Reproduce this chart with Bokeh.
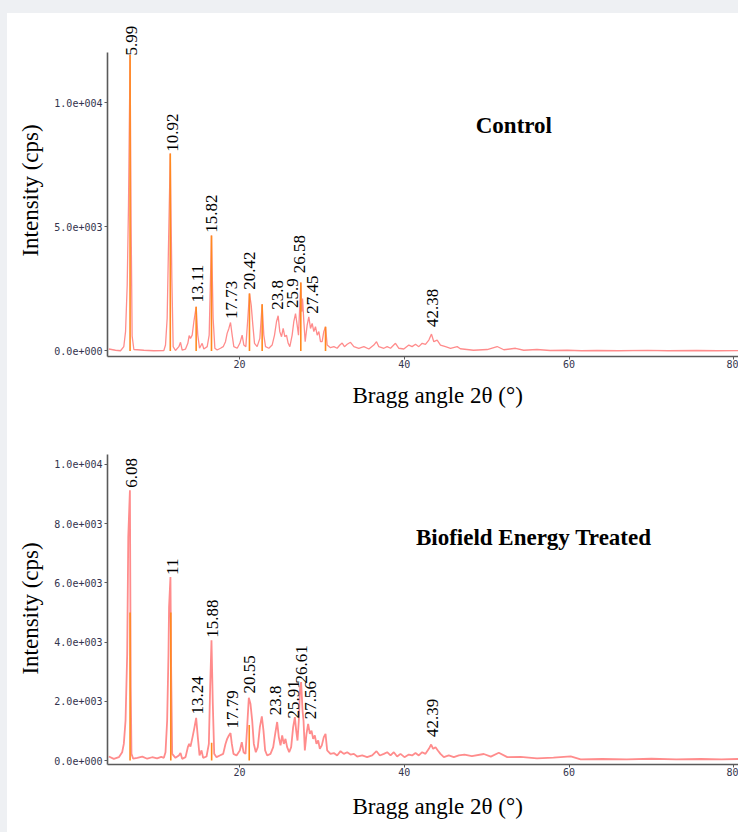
import numpy as np
from bokeh.plotting import figure
from bokeh.models import Range1d, FixedTicker, CustomJSTickFormatter, Title, Spacer
from bokeh.layouts import column, row
from bokeh.embed import file_html
from bokeh.resources import INLINE
from bokeh.core.properties import value

# ---------------- data (2theta in degrees, intensity in cps) ----------------
ctrl_x = [4.14, 4.95, 5.56, 5.96, 6.17, 6.37, 6.53, 6.72, 6.85, 6.97, 7.18, 8.39, 9.60, 10.82, 11.02,
          11.22, 11.38, 11.60, 11.79, 11.95, 12.23, 12.64, 12.84, 13.04, 13.45, 13.73, 13.89, 14.05,
          14.26, 14.46, 14.74, 14.94, 15.15, 15.47, 15.67, 16.08, 16.32, 16.48, 16.60, 16.80, 17.01,
          17.29, 17.69, 18.02, 18.30, 18.50, 18.71, 18.91, 19.11, 19.31, 19.72, 20.04, 20.32, 20.53,
          20.77, 21.01, 21.21, 21.42, 21.62, 21.82, 22.14, 22.47, 22.75, 22.95, 23.16, 23.56, 23.96,
          24.25, 24.49, 24.69, 24.89, 25.10, 25.30, 25.50, 25.70, 25.91, 26.11, 26.39, 26.59, 26.80,
          27.00, 27.16, 27.32, 27.44, 27.56, 27.65, 27.81, 27.97, 28.21, 28.41, 28.62, 28.82, 29.02,
          29.22, 29.43, 29.63, 29.83, 30.03, 30.23, 30.44, 30.64, 31.04, 31.45, 31.85, 32.18, 32.46,
          32.74, 33.07, 33.47, 33.88, 34.48, 35.09, 35.70, 36.30, 36.63, 36.91, 37.52, 37.92, 38.33,
          38.93, 39.34, 39.94, 40.55, 40.95, 41.36, 41.76, 42.17, 42.57, 42.98, 43.30, 43.58, 43.99,
          44.39, 45.00, 45.61, 46.42, 46.8, 48.4, 50.06, 51.27, 52.08, 53.5, 54.5, 56.1, 57.7, 59.8,
          61.5, 63.4, 66.0, 69.5, 72.0, 75.5, 78.0, 80.5]
ctrl_y = [80, 30, 10, 180, 780, 2640, 5900, 11950, 5000, 600, 60, 30, 10, 20, 240,
          1310, 4200, 7960, 2920, 175, 20, 175, 350, 40, 80, 310, 620, 510,
          640, 1180, 1780, 640, 110, 310, 80, 175, 640, 2920, 4660, 1310, 110,
          40, 110, 175, 375, 710, 910, 1150, 640, 175, 110, 310, 640, 240,
          175, 1310, 2320, 1850, 1045, 310, 175, 510, 1880, 640, 175, 110, 240,
          640, 1180, 1420, 780, 575, 910, 575, 640, 310, 175, 640, 1180, 1510,
          1045, 640, 1850, 2760, 1580, 2120, 1180, 375, 1045, 1380, 910, 1110, 780,
          980, 640, 780, 375, 375, 780, 980, 240, 135, 175, 110, 240, 320,
          175, 270, 350, 175, 110, 175, 80, 240, 375, 175, 110, 175, 110,
          310, 110, 80, 240, 175, 270, 175, 310, 270, 440, 680, 375, 440,
          240, 175, 110, 175, 90, 30, 60, 180, 50, 110, 30, 60, 20, 30,
          10, 20, 10, 25, 10, 20, 10, 15]

trt_x = [4.14, 4.75, 5.36, 5.76, 5.96, 6.17, 6.37, 6.50, 6.70, 6.80, 6.89, 7.10, 7.6, 8.2, 8.8,
         9.4, 10.0, 10.5, 10.82, 11.02, 11.22, 11.38, 11.45, 11.62, 11.71, 11.83, 12.23, 12.64,
         12.84, 13.04, 13.45, 13.73, 13.89, 14.05, 14.30, 14.54, 14.74, 14.94, 15.15, 15.39, 15.59,
         16.00, 16.28, 16.44, 16.60, 16.76, 16.93, 17.21, 17.61, 18.02, 18.30, 18.50, 18.71, 18.91,
         19.07, 19.27, 19.64, 20.04, 20.28, 20.49, 20.73, 20.93, 21.13, 21.33, 21.54, 21.74, 21.98,
         22.22, 22.47, 22.71, 22.91, 23.11, 23.36, 23.76, 24.09, 24.33, 24.57, 24.77, 24.98, 25.18,
         25.38, 25.58, 25.78, 26.03, 26.27, 26.51, 26.72, 26.88, 27.04, 27.20, 27.36, 27.48, 27.65,
         27.77, 27.93, 28.13, 28.33, 28.54, 28.74, 28.94, 29.14, 29.34, 29.55, 29.75, 29.99, 30.23,
         30.44, 30.64, 31.04, 31.45, 31.85, 32.26, 32.66, 33.07, 33.47, 33.88, 34.28, 34.89, 35.49,
         36.10, 36.63, 37.03, 37.52, 37.92, 38.33, 38.73, 39.13, 39.54, 40.02, 40.55, 40.95, 41.36,
         41.76, 42.17, 42.57, 42.98, 43.26, 43.50, 43.79, 44.07, 44.39, 44.80, 45.40, 46.01, 46.62,
         47.3, 48.2, 49.65, 50.5, 51.47, 52.5, 54.1, 56.1, 58.1, 60.2, 61.4, 64.0, 67.0, 70.0,
         73.0, 76.0, 78.5, 80.5]
trt_y = [135, 56, 113, 280, 560, 1350, 3600, 7550, 9130, 2480, 225, 60, 90, 130, 60,
         110, 70, 120, 90, 280, 1350, 3600, 5180, 6200, 2930, 225, 90, 170,
         250, 56, 113, 450, 560, 470, 790, 1130, 1440, 790, 170, 340, 90,
         135, 560, 2480, 4060, 1920, 225, 113, 170, 225, 560, 730, 845, 925,
         560, 225, 170, 340, 620, 280, 225, 1130, 2120, 1920, 1350, 560, 280,
         450, 1130, 1490, 1010, 340, 170, 225, 450, 900, 1300, 790, 510, 845,
         560, 730, 450, 280, 450, 1130, 1465, 1010, 675, 1350, 2480, 2650, 1690,
         1350, 340, 900, 1240, 900, 1010, 730, 845, 560, 675, 395, 510, 790,
         900, 340, 225, 250, 170, 315, 225, 280, 200, 225, 135, 170, 113,
         170, 315, 170, 225, 280, 170, 280, 135, 225, 113, 200, 170, 250,
         170, 280, 225, 395, 540, 395, 450, 340, 225, 113, 170, 113, 170,
         200, 150, 220, 130, 260, 113, 120, 70, 100, 140, 40, 50, 40, 60,
         40, 50, 40, 50]

# orange cores of the strongest reflections
ctrl_core_x = [6.72, 11.60, 14.74, 16.60, 21.21, 22.75, 27.44, 30.44]
ctrl_core_y = [11950, 7960, 1780, 4660, 2320, 1880, 2760, 980]
trt_core_x = [6.72, 11.66, 16.62, 21.18]
trt_core_y = [5000, 5000, 600, 1200]

# peak labels
ctrl_lbl = ["5.99", "10.92", "13.11", "15.82", "17.73", "20.42", "23.8", "25.9", "26.58", "27.45", "42.38"]
ctrl_lbl_x = [6.86, 11.83, 14.86, 16.60, 19.03, 21.21, 24.57, 26.39, 27.32, 28.82, 43.38]
ctrl_lbl_y = [11830, 7950, 1876, 4690, 1206, 2385, 1580, 1650, 3055, 1420, 885]

trt_lbl = ["6.08", "11", "13.24", "15.88", "17.79", "20.55", "23.8", "25.91", "26.61", "27.56", "42.39"]
trt_lbl_x = [6.86, 11.83, 14.87, 16.76, 19.11, 21.21, 24.37, 26.51, 27.52, 28.62, 43.38]
trt_lbl_y = [9150, 6200, 1487, 4080, 1014, 2200, 1465, 1350, 2535, 1330, 730]

x_ticks = [20, 40, 60, 80]
ctrl_yticks = [0, 5000, 10000]
trt_yticks = [0, 2000, 4000, 6000, 8000, 10000]

SERIF = "Liberation Serif"
TICKFONT = "DejaVu Sans Mono"
PAGE_BG = "#eef0f3"

sci_fmt = CustomJSTickFormatter(code="""
if (tick == 0) { return "0.0e+000"; }
const e = Math.floor(Math.log10(Math.abs(tick)) + 1e-9);
const m = tick / Math.pow(10, e);
return m.toFixed(1) + "e" + (e < 0 ? "-" : "+") + String(Math.abs(e)).padStart(3, "0");
""")


def make_panel(height, top, bottom, y_rng, y_bound_top, yticks, xs, ys, lw,
               core_x, core_y, lbl, lbl_x, lbl_y, title_text, title_x, title_y, xlab_standoff):
    p = figure(width=731, height=height, output_backend="svg", toolbar_location=None,
               x_range=Range1d(3.98, 80.56), y_range=Range1d(*y_rng),
               min_border_left=100, min_border_right=0,
               min_border_top=top, min_border_bottom=bottom)
    p.background_fill_color = "white"
    p.border_fill_color = "white"
    p.outline_line_color = None
    p.grid.visible = False

    p.line(xs, ys, line_color="#ff8c8c", line_width=lw)
    p.segment(x0=core_x, y0=[0] * len(core_x), x1=core_x, y1=core_y,
              line_color="#ff8a1f", line_width=1.6)
    p.text(x=lbl_x, y=lbl_y, text=lbl, angle=np.pi / 2, text_align="left",
           text_baseline="middle", text_font=value(SERIF), text_font_size="17px",
           text_color="black", y_offset=-2)
    p.text(x=[title_x], y=[title_y], text=[title_text], text_align="center",
           text_baseline="middle", text_font=value(SERIF), text_font_size="23px",
           text_font_style="bold", text_color="black")

    for ax in (p.xaxis[0], p.yaxis[0]):
        ax.axis_line_color = "#5a5a5a"
        ax.axis_line_width = 1.6
        ax.major_tick_line_color = "#5a5a5a"
        ax.major_tick_out = 3
        ax.major_tick_in = 0
        ax.minor_tick_line_color = None
        ax.major_label_text_font = TICKFONT
        ax.major_label_text_font_size = "10px"
        ax.major_label_text_color = "#34344e"

    p.xaxis.ticker = FixedTicker(ticks=x_ticks)
    p.xaxis.major_label_standoff = 0
    p.yaxis.ticker = FixedTicker(ticks=yticks)
    p.yaxis.formatter = sci_fmt
    p.yaxis.bounds = (y_rng[0], y_bound_top)
    p.yaxis.major_label_standoff = 2
    p.yaxis.axis_label = "Intensity (cps)"
    p.yaxis.axis_label_text_font = SERIF
    p.yaxis.axis_label_text_font_size = "23px"
    p.yaxis.axis_label_text_font_style = "normal"
    p.yaxis.axis_label_text_color = "black"
    p.yaxis.axis_label_standoff = 8

    t = Title(text="Bragg angle 2θ (°)", align="left", offset=245, standoff=xlab_standoff,
              text_font=SERIF, text_font_size="23px", text_font_style="normal",
              text_color="black")
    p.add_layout(t, "below")
    return p


p1 = make_panel(405, 11, 62, (-222, 13165), 12040, ctrl_yticks, ctrl_x, ctrl_y, 1.3,
                ctrl_core_x, ctrl_core_y, ctrl_lbl, ctrl_lbl_x, ctrl_lbl_y,
                "Control", 53.3, 9090, 20)
p2 = make_panel(414, 34, 68, (-135, 10405), 10338, trt_yticks, trt_x, trt_y, 1.8,
                trt_core_x, trt_core_y, trt_lbl, trt_lbl_x, trt_lbl_y,
                "Biofield Energy Treated", 55.7, 7540, 27)

bg = {"background-color": PAGE_BG}
layout = column(
    Spacer(width=738, height=13, styles=bg),
    row(Spacer(width=7, height=819, styles=bg),
        column(p1, p2, spacing=0, styles={"background-color": "white"}),
        spacing=0),
    spacing=0, styles=bg,
)

open("out.html", "w").write(file_html(layout, INLINE))
